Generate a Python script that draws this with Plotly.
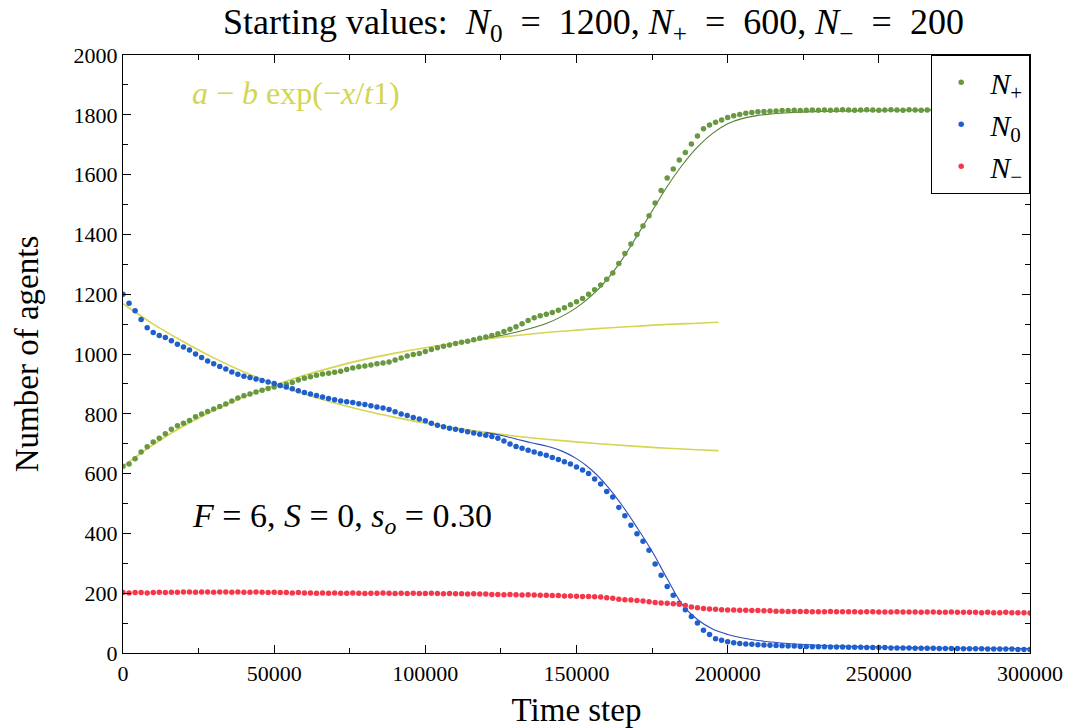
import plotly.graph_objects as go

# ---- data ----
steps = list(range(0, 300001, 2000))

n_plus = [625, 632, 650, 672, 690, 706, 718, 733, 748, 760,
          768, 778, 790, 799, 808, 816, 824, 833, 843, 853,
          860, 866, 873, 879, 885, 890, 895, 899, 905, 913,
          919, 924, 929, 933, 936, 939, 942, 948, 953, 957,
          960, 963, 967, 970, 973, 980, 987, 993, 998, 1002,
          1008, 1015, 1021, 1026, 1030, 1035, 1039, 1043, 1048, 1053,
          1057, 1062, 1068, 1075, 1083, 1091, 1101, 1112, 1121, 1128,
          1133, 1139, 1146, 1155, 1165, 1175, 1186, 1200, 1215, 1231,
          1250, 1271, 1303, 1336, 1368, 1400, 1428, 1462, 1505, 1547,
          1589, 1619, 1649, 1674, 1702, 1729, 1753, 1766, 1775, 1783,
          1791, 1797, 1801, 1805, 1808, 1810, 1811, 1812, 1813, 1814,
          1814,
          1815, 1814, 1815, 1816, 1815, 1816, 1815, 1816, 1817, 1816,
          1815, 1816, 1817, 1816, 1815, 1816, 1817, 1816, 1815, 1817,
          1816, 1815, 1816, 1817, 1816, 1815, 1816, 1817, 1816, 1815,
          1816, 1817, 1816, 1815, 1816, 1817, 1816, 1815, 1816, 1817]

n_zero = [1200, 1170, 1145, 1115, 1088, 1072, 1062, 1055, 1044, 1033,
          1023, 1013, 1000, 988, 977, 967, 958, 950, 940, 932,
          926, 921, 916, 911, 906, 901, 895, 890, 884, 877,
          871, 866, 861, 856, 851, 847, 843, 840, 838, 834,
          831, 827, 823, 819, 814, 807, 799, 794, 788, 783,
          777, 768, 762, 757, 752, 748, 744, 740, 736, 732,
          728, 724, 718, 709, 699, 691, 685, 678, 672, 666,
          661, 654, 647, 640, 632, 622, 612, 600, 582, 565,
          540, 522, 487, 459, 427, 399, 374, 344, 298, 260,
          222, 193, 166, 145, 122, 100, 76, 62, 48, 43,
          38, 34, 32, 30, 29, 28, 27, 26, 25, 24,
          23,
          23, 22, 22, 21, 21, 21, 20, 20, 20, 19,
          19, 19, 18, 18, 18, 18, 17, 17, 17, 17,
          16, 16, 16, 16, 15, 15, 15, 15, 14, 14,
          14, 14, 13, 13, 13, 13, 13, 12, 12, 12]

n_minus = [202, 201, 202, 202, 201, 202, 203, 202, 203, 203,
           204,
           204, 203, 204, 204, 203, 204, 204, 203, 204, 203,
           203, 204, 203, 202, 203,
           202, 202, 201, 202, 201, 201, 200, 201, 200, 201,
           200, 200, 201, 200, 199, 200, 200, 201, 200, 199,
           200, 199, 200, 199, 199, 200, 199, 198, 199, 198,
           198, 197, 198, 197, 197, 196, 196, 195, 196, 195,
           194, 195, 194, 193, 193, 192, 192, 191, 191, 190,
           189, 189, 188, 187, 185, 183, 180, 178, 177, 176,
           174, 171, 169, 167, 166, 165, 163, 159, 154, 151,
           149, 147, 146, 145, 144, 144, 143, 143, 142, 142,
           141, 141, 140, 140, 139,
           139, 139, 139, 138, 138, 138, 139, 138, 138, 138,
           138, 137, 138, 138, 137, 137, 137, 138, 137, 137,
           137, 136, 137, 137, 136, 136, 137, 136, 136, 136,
           136, 135, 136, 135, 135, 136, 135, 135, 135, 134]

# early-time exponential fits a - b exp(-x/t1)
fit1_x = [0, 10000, 20000, 30000, 40000, 50000, 60000, 70000, 80000, 90000,
          100000, 110000, 120000, 130000, 140000, 150000, 160000, 170000,
          180000, 190000, 197000]
fit1_plus = [625, 697, 759, 811, 857, 895, 929, 957, 982, 1003,
             1021, 1037, 1050, 1062, 1072, 1080, 1087, 1093, 1099, 1103, 1106]
fit1_zero = [1168, 1100, 1041, 987, 940, 900, 866, 836, 810, 788,
             769, 752, 738, 725, 715, 706, 698, 691, 685, 680, 677]

# late-time sigmoidal fits
fit2_x = [120000, 125000, 130000, 135000, 140000, 145000, 150000, 155000,
          160000, 165000, 170000, 175000, 180000, 185000, 190000, 195000,
          200000, 205000, 210000, 220000, 230000, 240000, 260000, 280000, 300000]
fit2_plus = [1055, 1062, 1073, 1086, 1102, 1125, 1155, 1195,
             1248, 1315, 1395, 1478, 1560, 1632, 1692, 1738,
             1770, 1788, 1798, 1807, 1811, 1813, 1815, 1816, 1816]
fit2_zero = [738, 728, 716, 703, 692, 676, 650, 612,
             560, 495, 420, 340, 248, 162, 112, 80,
             62, 50, 42, 32, 26, 22, 18, 16, 15]

x_ticks = [0, 50000, 100000, 150000, 200000, 250000, 300000]
y_ticks = [0, 200, 400, 600, 800, 1000, 1200, 1400, 1600, 1800, 2000]

GREEN = "rgb(104,152,64)"
BLUE = "rgb(30,95,205)"
RED = "rgb(245,55,75)"
YELLOW = "rgb(212,214,80)"
FONT = "Liberation Serif"

fig = go.Figure()

fig.add_trace(go.Scatter(x=fit1_x, y=fit1_plus, mode="lines", line_shape="spline",
                         line=dict(color=YELLOW, width=1.6), showlegend=False, hoverinfo="skip"))
fig.add_trace(go.Scatter(x=fit1_x, y=fit1_zero, mode="lines", line_shape="spline",
                         line=dict(color=YELLOW, width=1.6), showlegend=False, hoverinfo="skip"))
fig.add_trace(go.Scatter(x=fit2_x, y=fit2_plus, mode="lines", line_shape="spline",
                         line=dict(color="rgb(85,125,55)", width=1.1), showlegend=False, hoverinfo="skip"))
fig.add_trace(go.Scatter(x=fit2_x, y=fit2_zero, mode="lines", line_shape="spline",
                         line=dict(color="rgb(45,75,190)", width=1.1), showlegend=False, hoverinfo="skip"))

fig.add_trace(go.Scatter(x=steps, y=n_plus, mode="markers", name="<i>N</i><sub>+</sub>",
                         marker=dict(color=GREEN, size=5.5)))
fig.add_trace(go.Scatter(x=steps, y=n_zero, mode="markers", name="<i>N</i><sub>0</sub>",
                         marker=dict(color=BLUE, size=5.5)))
fig.add_trace(go.Scatter(x=steps, y=n_minus, mode="markers", name="<i>N</i><sub>−</sub>",
                         marker=dict(color=RED, size=5.5)))

axis_common = dict(showgrid=False, zeroline=False, showline=True, linecolor="black",
                   linewidth=1.4, mirror="ticks", ticks="inside", ticklen=8,
                   tickcolor="black", tickwidth=1.2, automargin=False,
                   tickfont=dict(family=FONT, size=22, color="black"))

fig.update_xaxes(range=[0, 300000], tickvals=x_ticks, tickformat="d",
                 minor=dict(dtick=25000, tick0=0, ticks="inside", ticklen=5, tickcolor="black"),
                 title=dict(text="Time step", font=dict(family=FONT, size=33, color="black"), standoff=14),
                 **axis_common)
fig.update_yaxes(range=[0, 2000], tickvals=y_ticks, tickformat="d",
                 minor=dict(dtick=100, tick0=0, ticks="inside", ticklen=5, tickcolor="black"),
                 title=dict(text="Number of agents", font=dict(family=FONT, size=33, color="black"), standoff=24),
                 **axis_common)

fig.update_layout(
    width=1075, height=728,
    margin=dict(l=123, r=45, t=55, b=75, autoexpand=False),
    paper_bgcolor="white", plot_bgcolor="white",
    title=dict(text="Starting values:  <i>N</i><sub>0</sub>&nbsp; = &nbsp;1200, <i>N</i><sub>+</sub>&nbsp; = &nbsp;600, <i>N</i><sub>−</sub>&nbsp; = &nbsp;200",
               x=0.552, xanchor="center", y=0.97, yanchor="middle",
               font=dict(family=FONT, size=36, color="black")),
    legend=dict(x=1, y=1, xanchor="right", yanchor="top", bgcolor="white",
                bordercolor="black", borderwidth=1.2,
                font=dict(family=FONT, size=30, color="black"),
                itemwidth=48, tracegroupgap=0),
    showlegend=True,
    annotations=[
        dict(x=22000, y=451, xref="x", yref="y", xanchor="left", yanchor="middle",
             text="<i>F</i> = 6, <i>S</i> = 0, <i>s<sub>o</sub></i> = 0.30", showarrow=False,
             font=dict(family=FONT, size=34, color="black")),
        dict(x=22000, y=1873, xref="x", yref="y", xanchor="left", yanchor="middle",
             text="<i>a</i> − <i>b</i> exp(−<i>x</i>/<i>t</i>1)", showarrow=False,
             font=dict(family=FONT, size=32, color=YELLOW)),
    ],
)

fig.write_html("out.html", config={"displayModeBar": False},
               post_script="document.body.style.margin='0';document.body.style.padding='0';")
